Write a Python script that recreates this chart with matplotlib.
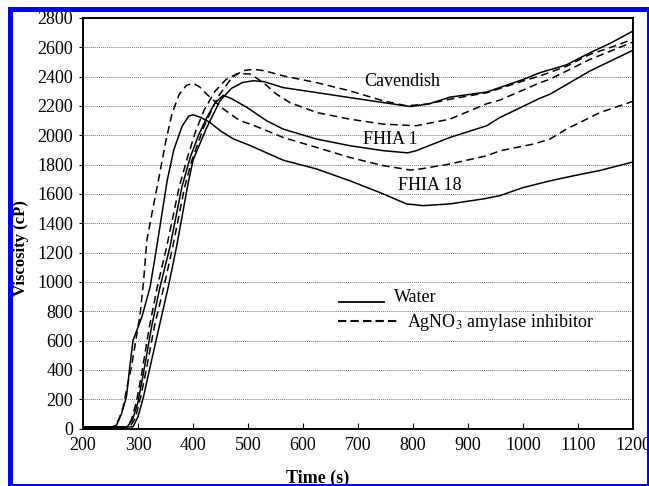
import matplotlib
matplotlib.use("Agg")
import matplotlib.pyplot as plt
from matplotlib.patches import Rectangle

plt.rcParams['font.family'] = ['Liberation Serif', 'DejaVu Serif']
plt.rcParams['mathtext.fontset'] = 'stix'

# viscosity curves (time in s, viscosity in cP)
cav_water_t = [200, 270, 285, 291, 300, 310, 322, 337, 355, 370, 390, 400, 425, 449, 470, 490, 510, 530,
               564, 625, 685, 746, 795, 830, 867, 934, 1000, 1031, 1079, 1122, 1160, 1200]
cav_water_v = [10, 10, 10, 12, 80, 216, 420, 670, 965, 1237, 1650, 1830, 2053, 2235, 2320, 2360, 2372, 2365,
               2325, 2291, 2257, 2223, 2196, 2215, 2260, 2295, 2380, 2427, 2480, 2563, 2630, 2711]

cav_agno3_t = [200, 285, 295, 305, 316, 330, 347, 363, 385, 398, 420, 445, 470, 490, 510, 530,
               564, 625, 685, 746, 788, 825, 867, 934, 1000, 1031, 1079, 1122, 1160, 1200]
cav_agno3_v = [10, 10, 70, 216, 420, 700, 965, 1237, 1650, 1830, 2060, 2260, 2390, 2440, 2450, 2440,
               2405, 2359, 2303, 2235, 2201, 2212, 2246, 2290, 2370, 2405, 2470, 2552, 2600, 2655]

fhia1_water_t = [200, 280, 290, 300, 310, 325, 340, 358, 380, 395, 410, 425, 440, 455, 470, 498, 534,
                 564, 625, 685, 746, 790, 806, 867, 934, 958, 1031, 1049, 1122, 1200]
fhia1_water_v = [10, 10, 60, 180, 380, 700, 965, 1237, 1650, 1850, 2000, 2120, 2220, 2273, 2250, 2190, 2099,
                 2042, 1974, 1929, 1895, 1880, 1895, 1985, 2065, 2121, 2253, 2280, 2439, 2580]

fhia1_agno3_t = [200, 280, 288, 297, 307, 320, 335, 352, 375, 390, 405, 420, 440, 460, 480, 504, 528, 552,
                 576, 625, 685, 746, 806, 867, 934, 958, 1031, 1049, 1122, 1200]
fhia1_agno3_v = [10, 10, 60, 180, 380, 680, 965, 1237, 1650, 1850, 2030, 2170, 2300, 2380, 2420, 2418, 2359, 2280,
                 2223, 2155, 2110, 2076, 2065, 2110, 2215, 2240, 2359, 2382, 2518, 2636]

fhia18_water_t = [200, 255, 261, 270, 279, 285, 291, 307, 322, 334, 353, 365, 380, 392, 400, 415, 431, 450,
                  473, 504, 564, 625, 685, 746, 788, 819, 867, 928, 958, 1000, 1050, 1100, 1140, 1200]
fhia18_water_v = [10, 10, 24, 100, 216, 420, 602, 760, 965, 1237, 1690, 1900, 2060, 2130, 2140, 2120, 2087, 2030,
                  1976, 1930, 1830, 1770, 1690, 1600, 1532, 1520, 1532, 1566, 1588, 1643, 1690, 1730, 1760, 1818]

fhia18_agno3_t = [200, 250, 255, 265, 273, 280, 288, 296, 304, 310, 316, 327, 337, 350, 362, 375, 388, 400,
                  412, 425, 440, 455, 485, 504, 522, 564, 625, 685, 746, 795, 813, 867, 934, 958, 1019, 1049,
                  1079, 1140, 1200]
fhia18_agno3_v = [10, 10, 12, 60, 148, 280, 420, 600, 785, 1000, 1282, 1500, 1690, 1950, 2150, 2280, 2340, 2355,
                  2330, 2280, 2230, 2180, 2100, 2076, 2050, 1985, 1917, 1849, 1793, 1763, 1770, 1804, 1860, 1894,
                  1940, 1974, 2042, 2155, 2232]

labels = ['Cavendish', 'FHIA 1', 'FHIA 18']
label_t = [780, 758, 830]
label_v = [2365, 1970, 1660]

x_ticks = list(range(200, 1201, 100))
y_ticks = list(range(0, 2801, 200))

fig = plt.figure(figsize=(6.49, 4.86), dpi=100)
ax = fig.add_axes([0.1279, 0.1183, 0.8474, 0.8447])

lw = 1.1
dash = (0, (5, 3))
ax.plot(cav_water_t, cav_water_v, color='black', lw=lw)
ax.plot(fhia1_water_t, fhia1_water_v, color='black', lw=lw)
ax.plot(fhia18_water_t, fhia18_water_v, color='black', lw=lw)
ax.plot(cav_agno3_t, cav_agno3_v, color='black', lw=lw, linestyle=dash)
ax.plot(fhia1_agno3_t, fhia1_agno3_v, color='black', lw=lw, linestyle=dash)
ax.plot(fhia18_agno3_t, fhia18_agno3_v, color='black', lw=lw, linestyle=dash)

for name, t, v in zip(labels, label_t, label_v):
    ax.text(t, v, name, fontsize=13, ha='center', va='center')

# hand made legend, like the original
ax.plot([0.466, 0.548], [0.308, 0.308], transform=ax.transAxes, color='black', lw=1.3)
ax.text(0.565, 0.318, 'Water', transform=ax.transAxes, fontsize=13, va='center')
ax.plot([0.464, 0.571], [0.261, 0.261], transform=ax.transAxes, color='black', lw=1.5,
        linestyle=(0, (4, 2)))
ax.text(0.590, 0.258, 'AgNO$_3$ amylase inhibitor', transform=ax.transAxes, fontsize=13, va='center')

ax.set_xlim(200, 1200)
ax.set_ylim(0, 2800)
ax.set_xticks(x_ticks)
ax.set_yticks(y_ticks)
ax.tick_params(axis='x', direction='in', length=4, labelsize=13, pad=6)
ax.tick_params(axis='y', direction='out', length=3, labelsize=13, pad=4)
ax.grid(axis='y', color='#777777', linestyle=(0, (1, 1)), linewidth=0.7)
for s in ax.spines.values():
    s.set_linewidth(1.4)

ax.set_xlabel('Time (s)', fontsize=13, fontweight='bold')
ax.xaxis.set_label_coords(0.427, -0.101)
ax.set_ylabel('Viscosity (cP)', fontsize=12, fontweight='bold')
ax.yaxis.set_label_coords(-0.098, 0.44)

# blue frame round the picture
frame = Rectangle((9.5 / 649, 0), 1 - 9.5 / 649, 1 - 9.5 / 486, transform=fig.transFigure,
                  fill=False, edgecolor='#0000ff', linewidth=3.6, zorder=10)
fig.patches.append(frame)

fig.savefig('out.png', dpi=100)
